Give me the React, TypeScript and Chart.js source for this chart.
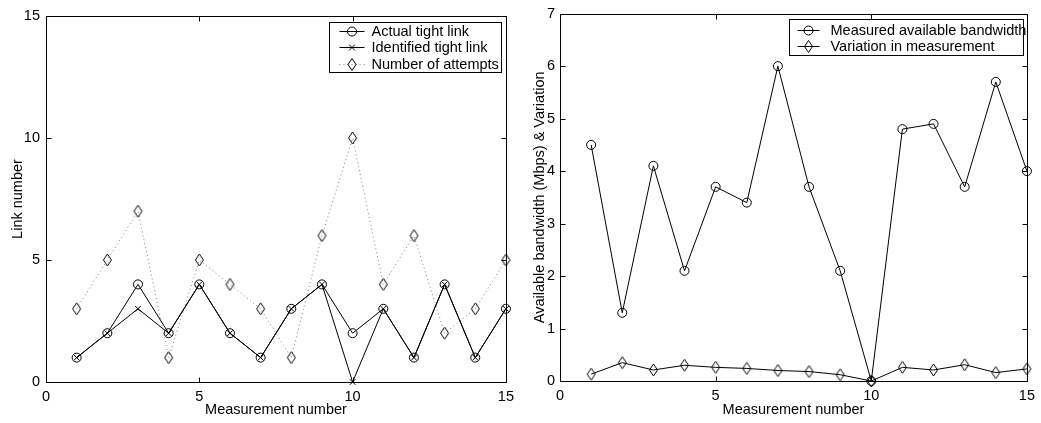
import React, { useEffect, useRef } from "react";
import { Chart, registerables } from "chart.js";
Chart.register(...registerables);

const measurement = [1, 2, 3, 4, 5, 6, 7, 8, 9, 10, 11, 12, 13, 14, 15];
const actualTightLink = [1, 2, 4, 2, 4, 2, 1, 3, 4, 2, 3, 1, 4, 1, 3];
const identifiedTightLink = [1, 2, 3, 2, 4, 2, 1, 3, 4, 0, 3, 1, 4, 1, 3];
const numberOfAttempts = [3, 5, 7, 1, 5, 4, 3, 1, 6, 10, 4, 6, 2, 3, 5];
const measuredBandwidth = [4.5, 1.3, 4.1, 2.1, 3.7, 3.4, 6.0, 3.7, 2.1, 0, 4.8, 4.9, 3.7, 5.7, 4.0];
const variationInMeasurement = [0.13, 0.35, 0.21, 0.3, 0.26, 0.24, 0.2, 0.18, 0.12, 0, 0.26, 0.21, 0.31, 0.16, 0.23];
const xTicks = [0, 5, 10, 15];
const leftYTicks = [0, 5, 10, 15];
const rightYTicks = [0, 1, 2, 3, 4, 5, 6, 7];

const FONT = "'Liberation Sans', Arial, Helvetica, sans-serif";
const FS = 14.5;
Chart.defaults.font.family = FONT;
Chart.defaults.font.size = FS;
Chart.defaults.color = "#000";

function makeDiamond(): HTMLCanvasElement {
  const c = document.createElement("canvas");
  c.width = 11;
  c.height = 14;
  const ctx = c.getContext("2d")!;
  ctx.strokeStyle = "#000";
  ctx.lineWidth = 1;
  ctx.beginPath();
  ctx.moveTo(5.5, 1);
  ctx.lineTo(9.5, 7);
  ctx.lineTo(5.5, 13);
  ctx.lineTo(1.5, 7);
  ctx.closePath();
  ctx.stroke();
  return c;
}

function drawMarker(ctx: CanvasRenderingContext2D, kind: string, x: number, y: number) {
  ctx.save();
  ctx.strokeStyle = "#000";
  ctx.lineWidth = 1;
  ctx.setLineDash([]);
  ctx.beginPath();
  if (kind === "circle") {
    ctx.arc(x, y, 4.5, 0, Math.PI * 2);
  } else if (kind === "cross") {
    ctx.moveTo(x - 3, y - 3);
    ctx.lineTo(x + 3, y + 3);
    ctx.moveTo(x + 3, y - 3);
    ctx.lineTo(x - 3, y + 3);
  } else if (kind === "diamond") {
    ctx.moveTo(x, y - 6);
    ctx.lineTo(x + 4, y);
    ctx.lineTo(x, y + 6);
    ctx.lineTo(x - 4, y);
    ctx.closePath();
  }
  ctx.stroke();
  ctx.restore();
}

const framePlugin = {
  id: "frame",
  beforeDatasetsDraw(chart: any, _args: any, opts: any) {
    const { ctx, chartArea: a, scales } = chart;
    ctx.save();
    ctx.strokeStyle = "#000";
    ctx.lineWidth = 1;
    ctx.setLineDash([]);
    const L = Math.round(a.left) + 0.5;
    const R = Math.round(a.right) + 0.5;
    const T = Math.round(a.top) + 0.5;
    const B = Math.round(a.bottom) + 0.5;
    ctx.strokeRect(L, T, R - L, B - T);
    const tl = 5;
    ctx.beginPath();
    (opts.xTicks as number[]).forEach((v) => {
      const x = Math.round(scales.x.getPixelForValue(v)) + 0.5;
      ctx.moveTo(x, B);
      ctx.lineTo(x, B - tl);
      ctx.moveTo(x, T);
      ctx.lineTo(x, T + tl);
    });
    (opts.yTicks as number[]).forEach((v) => {
      const y = Math.round(scales.y.getPixelForValue(v)) + 0.5;
      ctx.moveTo(L, y);
      ctx.lineTo(L + tl, y);
      ctx.moveTo(R, y);
      ctx.lineTo(R - tl, y);
    });
    ctx.stroke();
    ctx.restore();
  },
};

const legendPlugin = {
  id: "boxLegend",
  afterDraw(chart: any, _args: any, opts: any) {
    if (!opts || !opts.entries) return;
    const { ctx, chartArea: a } = chart;
    const right = Math.round(a.right) - opts.inset + 0.5;
    const left = right - opts.width;
    const top = Math.round(a.top) + opts.top + 0.5;
    ctx.save();
    ctx.fillStyle = "#fff";
    ctx.fillRect(left, top, opts.width, opts.height);
    ctx.strokeStyle = "#000";
    ctx.lineWidth = 1;
    ctx.strokeRect(left, top, opts.width, opts.height);
    ctx.font = `${FS}px ${FONT}`;
    ctx.textBaseline = "middle";
    ctx.fillStyle = "#000";
    (opts.entries as any[]).forEach((e, i) => {
      const y = top + opts.firstRow + i * opts.rowH;
      const x0 = left + opts.lineStart;
      const x1 = x0 + opts.lineLen;
      ctx.save();
      ctx.strokeStyle = e.color;
      ctx.setLineDash(e.dash || []);
      ctx.beginPath();
      ctx.moveTo(x0, Math.round(y) + 0.5);
      ctx.lineTo(x1, Math.round(y) + 0.5);
      ctx.stroke();
      ctx.restore();
      drawMarker(ctx, e.marker, (x0 + x1) / 2, Math.round(y) + 0.5);
      ctx.fillStyle = "#000";
      ctx.fillText(e.label, x1 + opts.textGap, y + 1);
    });
    ctx.restore();
  },
};

function useChart(ref: React.RefObject<HTMLCanvasElement>, build: () => any) {
  useEffect(() => {
    if (!ref.current) return;
    const chart = new Chart(ref.current, build());
    return () => chart.destroy();
  }, []);
}

function axisX(height: number, titlePad: number, tickPad: number) {
  return {
    type: "linear",
    min: 0,
    max: 15,
    afterBuildTicks: (s: any) => {
      s.ticks = xTicks.map((v) => ({ value: v }));
    },
    afterFit: (s: any) => {
      s.height = height;
    },
    grid: { display: false, drawTicks: false },
    border: { display: false },
    ticks: { padding: tickPad, maxRotation: 0, autoSkip: false, font: { size: FS } },
    title: {
      display: true,
      text: "Measurement number",
      font: { size: FS },
      padding: { top: 0, bottom: titlePad },
    },
  };
}

function axisY(max: number, tickVals: number[], width: number, title: string, titlePad: number, tickPad: number) {
  return {
    type: "linear",
    min: 0,
    max,
    afterBuildTicks: (s: any) => {
      s.ticks = tickVals.map((v) => ({ value: v }));
    },
    afterFit: (s: any) => {
      s.width = width;
    },
    grid: { display: false, drawTicks: false },
    border: { display: false },
    ticks: { padding: tickPad, autoSkip: false, font: { size: FS } },
    title: {
      display: true,
      text: title,
      font: { size: FS },
      padding: { top: titlePad, bottom: 0 },
    },
  };
}

const transparent = "rgba(0,0,0,0)";

function LeftChart() {
  const ref = useRef<HTMLCanvasElement>(null);
  useChart(ref, () => {
    const diamond = makeDiamond();
    return {
      type: "line",
      data: {
        datasets: [
          {
            label: "Number of attempts",
            data: measurement.map((x, i) => ({ x, y: numberOfAttempts[i] })),
            borderColor: "rgba(0,0,0,0.5)",
            borderWidth: 1,
            borderDash: [1, 3],
            pointStyle: diamond,
            pointRadius: 5,
            pointBorderColor: "#000",
            pointBackgroundColor: transparent,
            clip: false,
          },
          {
            label: "Identified tight link",
            data: measurement.map((x, i) => ({ x, y: identifiedTightLink[i] })),
            borderColor: "#000",
            borderWidth: 1,
            pointStyle: "crossRot",
            pointRadius: 4,
            pointBorderColor: "#000",
            pointBorderWidth: 1,
            pointBackgroundColor: transparent,
            clip: false,
          },
          {
            label: "Actual tight link",
            data: measurement.map((x, i) => ({ x, y: actualTightLink[i] })),
            borderColor: "#000",
            borderWidth: 1,
            pointStyle: "circle",
            pointRadius: 4.5,
            pointBorderColor: "#000",
            pointBorderWidth: 1,
            pointBackgroundColor: transparent,
            clip: false,
          },
        ],
      },
      options: {
        responsive: false,
        animation: false,
        layout: { padding: { left: 0, top: 16, right: 11, bottom: 0 } },
        scales: {
          x: axisX(41, 4.3, 6),
          y: axisY(15, leftYTicks, 46, "Link number", 9.3, 6),
        },
        plugins: {
          legend: { display: false },
          tooltip: { enabled: false },
          frame: { xTicks, yTicks: leftYTicks },
          boxLegend: {
            inset: 5,
            top: 6,
            width: 172,
            height: 50,
            firstRow: 8,
            rowH: 16.7,
            lineStart: 10,
            lineLen: 25,
            textGap: 7,
            entries: [
              { label: "Actual tight link", color: "#000", marker: "circle" },
              { label: "Identified tight link", color: "#000", marker: "cross" },
              { label: "Number of attempts", color: "rgba(0,0,0,0.5)", dash: [1, 3], marker: "diamond" },
            ],
          },
        },
      },
      plugins: [framePlugin, legendPlugin],
    };
  });
  return (
    <canvas
      ref={ref}
      width={520}
      height={423}
      style={{ position: "absolute", left: 0, top: 0, width: 520, height: 423 }}
    />
  );
}

function RightChart() {
  const ref = useRef<HTMLCanvasElement>(null);
  useChart(ref, () => {
    const diamond = makeDiamond();
    return {
      type: "line",
      data: {
        datasets: [
          {
            label: "Measured available bandwidth",
            data: measurement.map((x, i) => ({ x, y: measuredBandwidth[i] })),
            borderColor: "#000",
            borderWidth: 1,
            pointStyle: "circle",
            pointRadius: 4.5,
            pointBorderColor: "#000",
            pointBorderWidth: 1,
            pointBackgroundColor: transparent,
            clip: false,
          },
          {
            label: "Variation in measurement",
            data: measurement.map((x, i) => ({ x, y: variationInMeasurement[i] })),
            borderColor: "#000",
            borderWidth: 1,
            pointStyle: diamond,
            pointRadius: 5,
            pointBorderColor: "#000",
            pointBackgroundColor: transparent,
            clip: false,
          },
        ],
      },
      options: {
        responsive: false,
        animation: false,
        layout: { padding: { left: 0, top: 10, right: 11, bottom: 0 } },
        scales: {
          x: axisX(42, 4.3, 6),
          y: axisY(7, rightYTicks, 40, "Available bandwidth (Mbps) & Variation", 11.3, 5),
        },
        plugins: {
          legend: { display: false },
          tooltip: { enabled: false },
          frame: { xTicks, yTicks: rightYTicks },
          boxLegend: {
            inset: 4,
            top: 5,
            width: 234,
            height: 36,
            firstRow: 10,
            rowH: 16.7,
            lineStart: 8,
            lineLen: 22,
            textGap: 11,
            entries: [
              { label: "Measured available bandwidth", color: "#000", marker: "circle" },
              { label: "Variation in measurement", color: "#000", marker: "diamond" },
            ],
          },
        },
      },
      plugins: [framePlugin, legendPlugin],
    };
  });
  return (
    <canvas
      ref={ref}
      width={521}
      height={423}
      style={{ position: "absolute", left: 520, top: 0, width: 521, height: 423 }}
    />
  );
}

export default function App() {
  return (
    <div style={{ position: "absolute", left: 0, top: 0, width: 1041, height: 423, background: "#fff" }}>
      <LeftChart />
      <RightChart />
    </div>
  );
}
